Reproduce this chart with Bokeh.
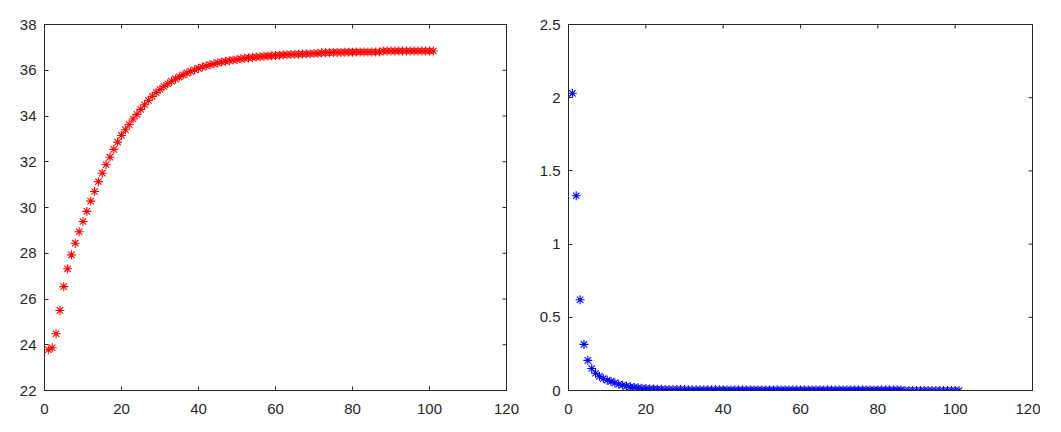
import math
from bokeh.plotting import figure
from bokeh.layouts import row
from bokeh.models import Range1d, FixedTicker
from bokeh.embed import file_html
from bokeh.resources import INLINE

iterations = list(range(1, 102))

left_values = [
    23.78, 23.87, 24.48, 25.50, 26.54, 27.32, 27.93, 28.44, 28.94, 29.39,
    29.83, 30.28, 30.70, 31.13, 31.50, 31.87, 32.20, 32.54, 32.86, 33.15,
    33.40, 33.63, 33.87, 34.07, 34.29, 34.49, 34.68, 34.86, 35.02, 35.16,
    35.29, 35.41, 35.52, 35.62, 35.71, 35.80, 35.88, 35.95, 36.02, 36.08,
    36.14, 36.19, 36.24, 36.28, 36.32, 36.36, 36.39, 36.42, 36.45, 36.47,
    36.50, 36.52, 36.54, 36.56, 36.58, 36.59, 36.61, 36.62, 36.63, 36.65,
    36.66, 36.67, 36.68, 36.69, 36.70, 36.70, 36.71, 36.72, 36.72, 36.73,
    36.74, 36.76, 36.77, 36.77, 36.78, 36.78, 36.78, 36.79, 36.79, 36.79,
    36.80, 36.80, 36.80, 36.80, 36.80, 36.80, 36.80, 36.84, 36.84, 36.84,
    36.84, 36.84, 36.84, 36.84, 36.84, 36.84, 36.84, 36.84, 36.84, 36.84,
    36.84,
]

right_values = [
    2.03, 1.33, 0.62, 0.315, 0.206, 0.150, 0.118, 0.097, 0.082, 0.070,
    0.062, 0.052, 0.043, 0.036, 0.030, 0.025, 0.021, 0.018, 0.015, 0.013,
    0.011, 0.010, 0.009, 0.008, 0.007, 0.006, 0.006, 0.006, 0.006, 0.006,
    0.005, 0.005, 0.005, 0.005, 0.005, 0.005, 0.005, 0.005, 0.005, 0.005,
    0.004, 0.004, 0.004, 0.004, 0.004, 0.004, 0.004, 0.004, 0.004, 0.004,
    0.004, 0.004, 0.004, 0.004, 0.004, 0.004, 0.004, 0.004, 0.004, 0.004,
    0.004, 0.004, 0.004, 0.004, 0.004, 0.004, 0.004, 0.004, 0.004, 0.004,
    0.004, 0.004, 0.004, 0.004, 0.004, 0.004, 0.004, 0.004, 0.004, 0.004,
    0.004, 0.004, 0.004, 0.004, 0.004, 0.004, 0.0, 0.0, 0.0, 0.0,
    0.0, 0.0, 0.0, 0.0, 0.0, 0.0, 0.0, 0.0, 0.0, 0.0,
    0.0,
]

x_ticks = [0, 20, 40, 60, 80, 100, 120]
left_y_ticks = [22, 24, 26, 28, 30, 32, 34, 36, 38]
right_y_ticks = [0, 0.5, 1, 1.5, 2, 2.5]

AX = "#262626"
FONT = "Liberation Sans"


def style_axis(ax, standoff):
    ax.axis_line_color = AX
    ax.axis_line_width = 1
    ax.major_tick_line_color = AX
    ax.major_tick_in = 4
    ax.major_tick_out = 0
    ax.minor_tick_line_color = None
    ax.major_label_text_font = FONT
    ax.major_label_text_color = AX
    ax.major_label_text_font_size = "15px"
    ax.major_label_standoff = standoff


def make_fig(y_vals, color, y_start, y_end, y_ticks, fw, left_border, right_border):
    x_end = x_ticks[-1]
    p = figure(
        frame_width=fw, frame_height=366,
        x_range=Range1d(x_ticks[0], x_end), y_range=Range1d(y_start, y_end),
        output_backend="svg", toolbar_location=None,
        min_border_left=left_border, min_border_right=right_border,
        min_border_top=24, min_border_bottom=40,
    )
    p.background_fill_color = "white"
    p.border_fill_color = "white"
    p.outline_line_color = AX
    p.outline_line_width = 1
    p.xgrid.visible = False
    p.ygrid.visible = False
    p.xaxis.ticker = FixedTicker(ticks=x_ticks)
    p.yaxis.ticker = FixedTicker(ticks=y_ticks)
    style_axis(p.xaxis[0], 13)
    style_axis(p.yaxis[0], 8)
    # inward ticks on the top and right edges (clipped to the frame)
    p.scatter(x_ticks, [y_end] * len(x_ticks), marker="dash", angle=math.pi / 2,
              size=8, line_color=AX, line_width=1)
    p.scatter([x_end] * len(y_ticks), y_ticks, marker="dash",
              size=8, line_color=AX, line_width=1)
    p.scatter(iterations, y_vals, marker="asterisk", size=9,
              line_color=color, line_width=1.1)
    return p


p1 = make_fig(left_values, "#ff0000", 22, 38, left_y_ticks, 462, 44, 22)
p2 = make_fig(right_values, "#0000ff", 0, 2.5, right_y_ticks, 464, 40, 8)

layout = row(p1, p2)
open("out.html", "w").write(file_html(layout, INLINE))
